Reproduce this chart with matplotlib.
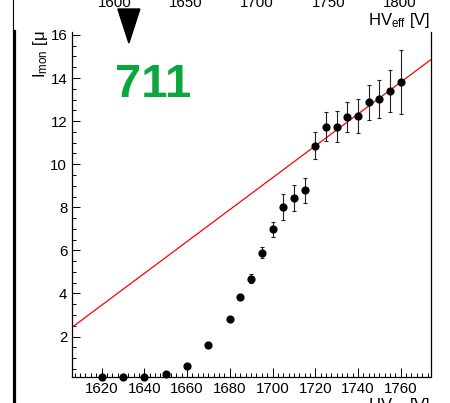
import matplotlib
matplotlib.use("Agg")
import matplotlib.pyplot as plt
from matplotlib.ticker import MultipleLocator, FixedLocator
from matplotlib.patches import Polygon
from matplotlib.lines import Line2D
import numpy as np

# ---- data ----
hv = [1620, 1630, 1640, 1650, 1660, 1670, 1680, 1685, 1690, 1695, 1700, 1705,
      1710, 1715, 1720, 1725, 1730, 1735, 1740, 1745, 1750, 1755, 1760]
imon = [0.12, 0.11, 0.11, 0.26, 0.64, 1.61, 2.82, 3.83, 4.69, 5.90, 6.97, 8.01,
        8.43, 8.78, 10.85, 11.75, 11.75, 12.19, 12.22, 12.87, 13.04, 13.41, 13.80]
imon_err = [0.02, 0.02, 0.02, 0.03, 0.05, 0.07, 0.10, 0.10, 0.20, 0.25, 0.36, 0.60,
            0.62, 0.60, 0.63, 0.66, 0.70, 0.70, 0.79, 0.80, 0.88, 0.98, 1.49]
fit_slope = 0.074          # uA / V
fit_intercept = -116.43    # uA
x_ticks = [1620, 1640, 1660, 1680, 1700, 1720, 1740, 1760]
y_ticks = [2, 4, 6, 8, 10, 12, 14, 16]
top_ticks = [1600, 1650, 1700, 1750, 1800]
marker_hv = 1632.8
chamber_label = "711"

plt.rcParams['font.family'] = ['Liberation Sans', 'DejaVu Sans']
plt.rcParams['mathtext.fontset'] = 'custom'
plt.rcParams['mathtext.rm'] = 'Liberation Sans'
plt.rcParams['mathtext.it'] = 'Liberation Sans:italic'

W, H = 450, 403
fig = plt.figure(figsize=(W / 100, H / 100), dpi=100, facecolor='white')
ax = fig.add_axes([72 / W, (H - 377.3) / H, (430.5 - 72) / W, (377.3 - 31.7) / H])

xlim = (1606.2, 1773.9)
ax.set_xlim(*xlim)
ax.set_ylim(0.11, 16.15)

# fit line
xf = np.array(xlim)
ax.plot(xf, fit_intercept + fit_slope * xf, color='#ff0000', lw=0.9, zorder=2)

# data points
ax.errorbar(hv, imon, yerr=imon_err, fmt='o', color='black', ms=4.9,
            ecolor='#222222', elinewidth=0.8, capsize=1.3, capthick=0.8,
            zorder=3, clip_on=False)

for s in ['left', 'bottom', 'right']:
    ax.spines[s].set_linewidth(0.9)
ax.spines['top'].set_visible(False)

ax.xaxis.set_major_locator(FixedLocator(x_ticks))
ax.xaxis.set_minor_locator(MultipleLocator(2.5))
ax.yaxis.set_major_locator(FixedLocator(y_ticks))
ax.yaxis.set_minor_locator(MultipleLocator(0.5))
ax.tick_params(axis='both', which='both', direction='in', top=False, right=False,
               labelsize=10.8, width=0.7)
ax.tick_params(axis='x', which='major', length=6.5, pad=3.5)
ax.tick_params(axis='x', which='minor', length=3)
ax.tick_params(axis='y', which='major', length=6, pad=3.5)
ax.tick_params(axis='y', which='minor', length=3)

# top axis (HV_eff)
axt = ax.twiny()
axt.set_xlim(1569.7, 1822.0)
axt.xaxis.set_major_locator(FixedLocator(top_ticks))
axt.xaxis.set_minor_locator(FixedLocator([]))
axt.tick_params(axis='x', which='both', length=0, pad=15.5, labelsize=10.8)
for s in axt.spines.values():
    s.set_visible(False)

# axis titles
fig.text(430.7 / W, 1 - 25 / H, r"HV$_{\mathrm{eff}}$ [V]", ha='right', va='baseline', fontsize=12)
fig.text(430.7 / W, 1 - 396 / H, r"HV$_{\mathrm{eff}}$ [V]", ha='right', va='top', fontsize=12)
fig.text(40 / W, 1 - 30 / H, r"I$_{\mathrm{mon}}$ [μ", rotation=90, ha='center', va='top', fontsize=12)

# chamber label
fig.text(115 / W, 1 - 97 / H, chamber_label, color='#0aa83c', fontsize=34,
         fontweight='bold', ha='left', va='baseline')

# marker triangle (points at marker_hv on the lower axis)
disp = ax.transData.transform((marker_hv, 1.0))
cx = disp[0] / W
tri = Polygon([(cx - 11 / W, 1 - 9 / H), (cx + 11 / W, 1 - 9 / H), (cx, 1 - 43 / H)],
              closed=True, facecolor='black', edgecolor='black', transform=fig.transFigure)
fig.add_artist(tri)

# left border lines
fig.add_artist(Line2D([13.2 / W, 13.2 / W], [1, 1 - 31 / H], color='black', lw=0.8,
                      transform=fig.transFigure))
fig.add_artist(Line2D([14.2 / W, 14.2 / W], [1 - 31 / H, 0], color='black', lw=2.3,
                      transform=fig.transFigure))

fig.savefig("out.png", dpi=100, facecolor='white')
